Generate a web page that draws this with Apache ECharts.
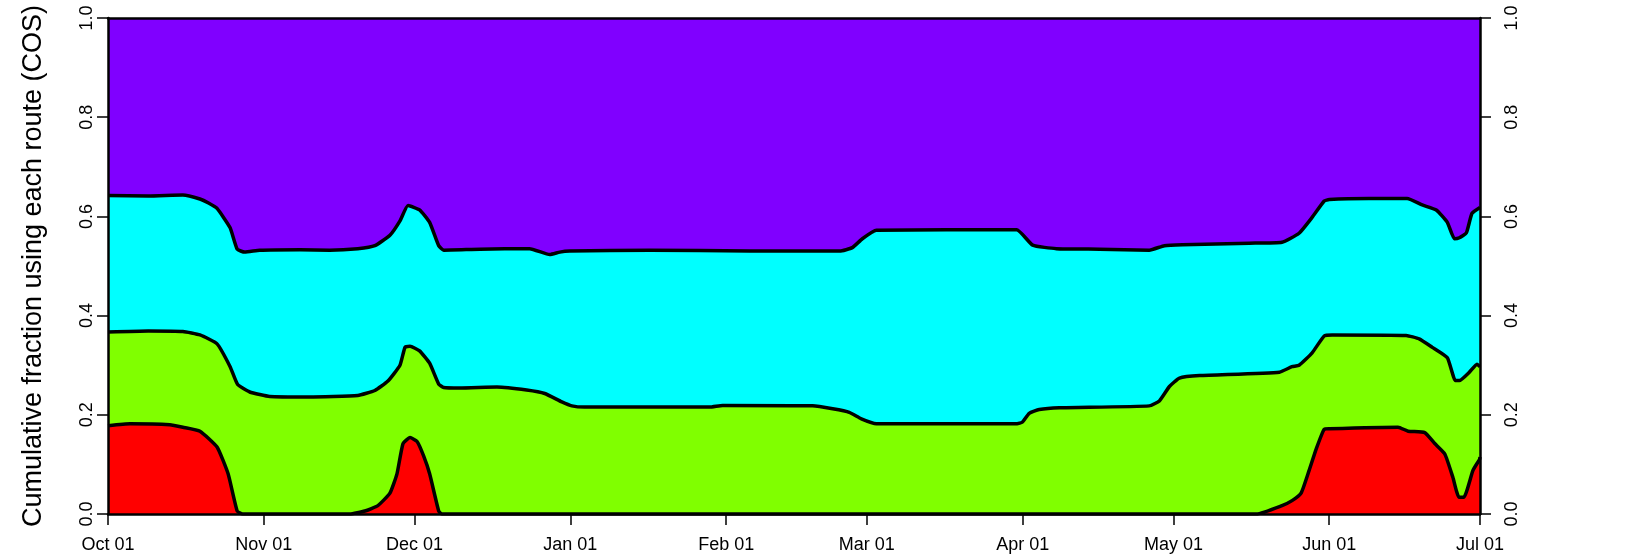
<!DOCTYPE html>
<html>
<head>
<meta charset="utf-8">
<script src="https://cdn.jsdelivr.net/npm/echarts@6/dist/echarts.min.js"></script>
<style>
  html, body { margin: 0; padding: 0; background: #fff; }
  #chart { width: 1632px; height: 560px; }
</style>
</head>
<body>
<div id="chart"></div>
<script>
// x = days since Oct 01, y = cumulative fraction
const monthDays = [0, 31, 61, 92, 123, 151, 182, 212, 243, 273];
const monthLabels = ["Oct 01", "Nov 01", "Dec 01", "Jan 01", "Feb 01", "Mar 01", "Apr 01", "May 01", "Jun 01", "Jul 01"];

// top of cyan band
const cyanTop = [
  [0, 0.642], [8, 0.641], [14.9, 0.643], [18.3, 0.635], [20, 0.627], [21.7, 0.616], [24.3, 0.577],
  [25.7, 0.534], [27.2, 0.528], [30.2, 0.532], [38.2, 0.533], [44.1, 0.532], [49.7, 0.535],
  [53.1, 0.541], [56.1, 0.562], [58.1, 0.591], [59.7, 0.622], [62.0, 0.613], [64.0, 0.588],
  [65.8, 0.541], [66.8, 0.532], [74, 0.534], [83.9, 0.535], [87.9, 0.523], [89.9, 0.528],
  [91.9, 0.530], [107.8, 0.532], [127.7, 0.530], [145.6, 0.530], [148.1, 0.537], [150.1, 0.555],
  [152.9, 0.572], [180.8, 0.573], [184.0, 0.542], [188.7, 0.535], [197.3, 0.534], [207.2, 0.532],
  [210.2, 0.541], [213.8, 0.543], [227.1, 0.546], [233.6, 0.548], [237.0, 0.566], [239.6, 0.598],
  [242.0, 0.631], [243.0, 0.634], [250.9, 0.636], [258.5, 0.636], [261.5, 0.623], [264.3, 0.613],
  [266.5, 0.588], [267.9, 0.555], [268.9, 0.557], [270.3, 0.567], [271.4, 0.606], [273, 0.618]
];

// top of green band
const greenTop = [
  [0, 0.367], [8, 0.369], [14.9, 0.368], [18.3, 0.361], [21.7, 0.343], [24.3, 0.297], [25.8, 0.261],
  [28.2, 0.246], [32.2, 0.237], [40, 0.236], [49.7, 0.239], [53.1, 0.249], [55.7, 0.268],
  [58.1, 0.300], [59.1, 0.336], [60.1, 0.338], [62.0, 0.329], [64.0, 0.304], [65.8, 0.262],
  [66.8, 0.255], [70.0, 0.254], [77.4, 0.256], [83.3, 0.250], [86.9, 0.243], [90.3, 0.226],
  [92.3, 0.218], [94.8, 0.2155], [119.7, 0.2155], [122.3, 0.219], [140.2, 0.218], [144.2, 0.212],
  [147.5, 0.205], [149.9, 0.192], [152.9, 0.182], [180.9, 0.182], [181.9, 0.185], [183.3, 0.203],
  [185.3, 0.2105], [189.3, 0.214], [207.2, 0.218], [209.2, 0.228], [211.2, 0.257], [213.2, 0.274],
  [217.2, 0.279], [233.1, 0.286], [235.6, 0.297], [237.0, 0.300], [239.6, 0.325], [242.0, 0.359],
  [243.6, 0.361], [258.3, 0.360], [260.9, 0.353], [263.5, 0.336], [266.5, 0.315], [268.1, 0.269],
  [268.9, 0.269], [270.9, 0.286], [272.4, 0.302], [273, 0.297]
];

// top of red band
const redTop = [
  [0, 0.178], [4.4, 0.182], [12.3, 0.180], [14.9, 0.175], [18.3, 0.167], [21.7, 0.135], [23.9, 0.081],
  [25.7, 0.006], [26.8, 0], [48.1, 0], [51.1, 0.006], [53.7, 0.017], [56.1, 0.042], [57.5, 0.081],
  [58.7, 0.142], [60.1, 0.154], [61.5, 0.146], [62.8, 0.117], [64.0, 0.081], [65.8, 0.006],
  [66.4, 0], [228.5, 0], [233.6, 0.017], [235.6, 0.027], [237.4, 0.042], [239.0, 0.088],
  [240.4, 0.131], [242.0, 0.171], [243.0, 0.172], [256.7, 0.175], [258.7, 0.167], [262.0, 0.164],
  [264.0, 0.142], [266.0, 0.121], [267.6, 0.074], [268.8, 0.034], [269.8, 0.034], [271.6, 0.088],
  [272.9, 0.110], [273, 0.115]
];

const font = "'Liberation Sans', Arial, sans-serif";
const chart = echarts.init(document.getElementById("chart"));

function band(data, color) {
  return {
    type: "line",
    data: data,
    symbol: "none",
    smooth: 0.15,
    lineStyle: { color: "#000", width: 3.5, join: "round" },
    itemStyle: { color: color },
    areaStyle: { color: color, opacity: 1 }
  };
}

const frameLine = { show: true, onZero: false, lineStyle: { color: "#000", width: 2.5 } };

const option = {
  animation: false,
  grid: {
    left: 108, right: 152, top: 18, bottom: 46,
    show: true, backgroundColor: "#8000FF", borderWidth: 0
  },
  xAxis: [
    {
      type: "value", min: 0, max: 273, position: "bottom", z: 10,
      axisLine: frameLine,
      axisTick: { show: true, customValues: monthDays, length: 11, lineStyle: { color: "#000", width: 1.5 } },
      axisLabel: {
        customValues: monthDays,
        formatter: v => monthLabels[monthDays.indexOf(v)],
        fontSize: 18, color: "#000", margin: 22, fontFamily: font
      },
      splitLine: { show: false }
    },
    {
      type: "value", min: 0, max: 273, position: "top", z: 10,
      axisLine: frameLine,
      axisTick: { show: false }, axisLabel: { show: false }, splitLine: { show: false }
    }
  ],
  yAxis: [
    {
      type: "value", min: 0, max: 1, interval: 0.2, position: "left", z: 10,
      name: "Cumulative fraction using each route (COS)",
      nameLocation: "middle", nameGap: 61, nameRotate: 90,
      nameTextStyle: { fontSize: 27, color: "#000", fontFamily: font },
      axisLine: frameLine,
      axisTick: { show: true, length: 11, lineStyle: { color: "#000", width: 1.5 } },
      axisLabel: { rotate: 90, margin: 12, fontSize: 18, color: "#000", fontFamily: font, formatter: v => v.toFixed(1) },
      splitLine: { show: false }
    },
    {
      type: "value", min: 0, max: 1, interval: 0.2, position: "right", z: 10,
      axisLine: frameLine,
      axisTick: { show: true, length: 11, lineStyle: { color: "#000", width: 1.5 } },
      axisLabel: { rotate: 90, margin: 23, fontSize: 18, color: "#000", fontFamily: font, formatter: v => v.toFixed(1) },
      splitLine: { show: false }
    }
  ],
  series: [
    band(cyanTop, "#00FFFF"),
    band(greenTop, "#80FF00"),
    band(redTop, "#FF0000")
  ]
};

chart.setOption(option);
</script>
</body>
</html>
